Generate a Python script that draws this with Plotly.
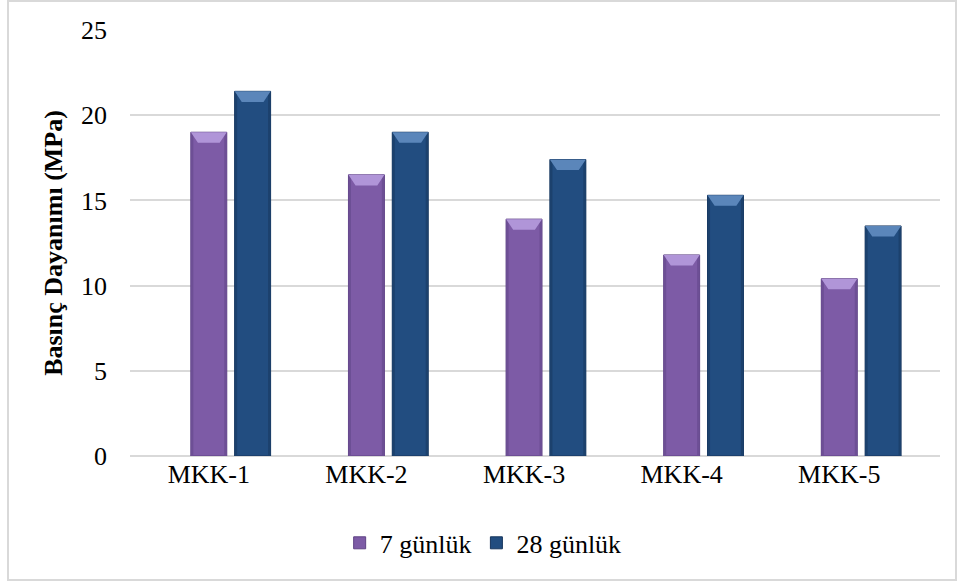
import plotly.graph_objects as go

# Compressive strength of the mixes at 7 and 28 days
categories = ["MKK-1", "MKK-2", "MKK-3", "MKK-4", "MKK-5"]
day7 = [19.0, 16.5, 13.9, 11.8, 10.4]
day28 = [21.4, 19.0, 17.4, 15.3, 13.5]
series_names = ["7 günlük", "28 günlük"]
y_ticks = [0, 5, 10, 15, 20, 25]

FONT = "Liberation Serif, Times New Roman, serif"

# bar geometry in category units (one category = 1.0)
BAR_W = 0.228
SLOT = 0.278
BEVEL_X = 0.045
BEVEL_Y = 0.62
SIDE = 0.016

styles = [
    dict(fill="#7d5ba6", edge="#5e4284", top="#b095d8", side="#6d4f95"),
    dict(fill="#224d80", edge="#17355c", top="#5b86ba", side="#1c416d"),
]

xs = list(range(len(categories)))
fig = go.Figure()

for k, (name, vals, st) in enumerate(zip(series_names, [day7, day28], styles)):
    centers = [x + k * SLOT for x in xs]
    fig.add_trace(go.Bar(
        x=centers, y=vals, name=name, width=BAR_W,
        marker=dict(color=st["fill"], line=dict(color=st["edge"], width=1)),
        showlegend=True,
    ))
    # side strips and top bevel built from the same values
    sx, sy = [], []
    tx, ty = [], []
    for c, v in zip(centers, vals):
        x0, x1 = c - BAR_W / 2, c + BAR_W / 2
        sx += [x0, x0 + SIDE, x0 + SIDE, x0, x0, None]
        sy += [0, 0, v, v, 0, None]
        sx += [x1 - SIDE, x1, x1, x1 - SIDE, x1 - SIDE, None]
        sy += [0, 0, v, v, 0, None]
        tx += [x0, x1, x1 - BEVEL_X, x0 + BEVEL_X, x0, None]
        ty += [v, v, v - BEVEL_Y, v - BEVEL_Y, v, None]
    fig.add_trace(go.Scatter(
        x=sx, y=sy, fill="toself", fillcolor=st["side"], mode="lines",
        line=dict(width=0), hoverinfo="skip", showlegend=False,
    ))
    fig.add_trace(go.Scatter(
        x=tx, y=ty, fill="toself", fillcolor=st["top"], mode="lines",
        line=dict(width=0), hoverinfo="skip", showlegend=False,
    ))

fig.update_layout(
    width=961, height=583,
    margin=dict(l=130, r=21, t=30, b=127),
    paper_bgcolor="white", plot_bgcolor="white",
    font=dict(family=FONT, size=26, color="#000000"),
    barmode="overlay",
    showlegend=True,
    legend=dict(
        orientation="h", x=0.436, xanchor="center", y=-0.204, yanchor="middle",
        font=dict(family=FONT, size=26), itemwidth=30, traceorder="normal",
    ),
    xaxis=dict(
        range=[-0.5 - SLOT * 0.5 + 0.139, len(categories) - 0.5 + 0.139],
        tickmode="array", tickvals=xs, ticktext=categories,
        showgrid=False, zeroline=False, showline=False, ticks="",
        tickfont=dict(family=FONT, size=26), fixedrange=True,
    ),
    yaxis=dict(
        range=[0, 25], tickmode="array", tickvals=y_ticks,
        showgrid=True, gridcolor="#d9d9d9", gridwidth=1.5,
        zeroline=True, zerolinecolor="#d9d9d9", zerolinewidth=2,
        showline=False, ticks="", ticklabelstandoff=22,
        tickfont=dict(family=FONT, size=26),
        title=dict(text="<b>Basınç Dayanımı (MPa)</b>", font=dict(family=FONT, size=26), standoff=10),
    ),
    shapes=[dict(
        type="rect", xref="paper", yref="paper",
        x0=-122 / 810, x1=1 + 16 / 810, y0=-124 / 426, y1=1 + 29 / 426,
        line=dict(color="#d9d9d9", width=2), fillcolor="rgba(0,0,0,0)", layer="below",
    )],
)

fig.write_html("out.html")
